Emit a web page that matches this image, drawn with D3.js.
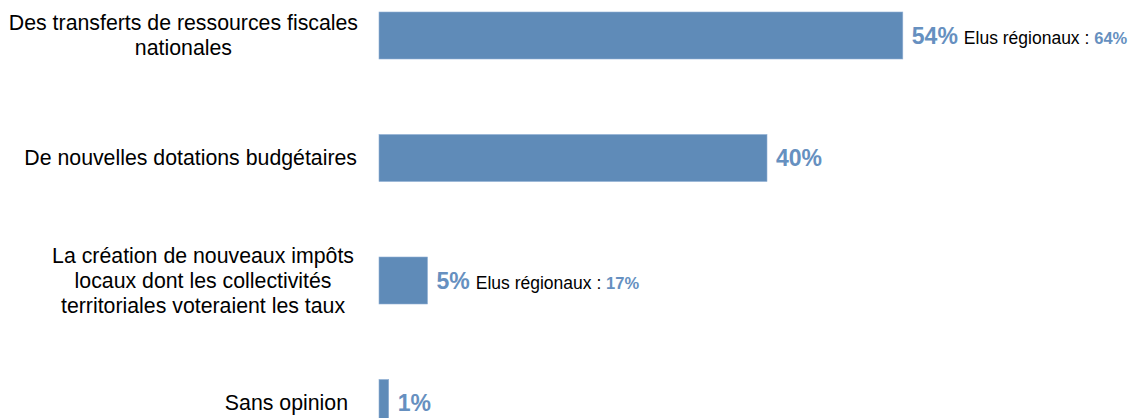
<!DOCTYPE html>
<html>
<head>
<meta charset="utf-8">
<script src="https://cdnjs.cloudflare.com/ajax/libs/d3/7.8.5/d3.min.js"></script>
<style>
  body { margin: 0; background: #fff; }
  text { font-family: "Liberation Sans", Arial, sans-serif; }
</style>
</head>
<body>
<div id="vis"></div>
<script>
// data
const categories = [
  ["Des transferts de ressources fiscales", "nationales"],
  ["De nouvelles dotations budgétaires"],
  ["La création de nouveaux impôts", "locaux dont les collectivités", "territoriales voteraient les taux"],
  ["Sans opinion"]
];
const values = [54, 40, 5, 1];
const elusRegionaux = [64, null, 17, null];

const w = 1133, h = 418;
const barColor = "#5f8bb8";
const labelColor = "#6690c0";

const svg = d3.select("#vis").append("svg")
  .attr("width", w).attr("height", h);

const keys = d3.range(categories.length);
const x = d3.scaleLinear().domain([0, 100]).range([379, 379 + 970]);
const y = d3.scalePoint().domain(keys).range([35.5, 403]);
const barH = 47;
const lineH = 25;
const rightEdge = [358, 357, 354, 348];

const rows = svg.selectAll("g.row")
  .data(keys)
  .join("g")
  .attr("class", "row");

// bars
rows.append("rect")
  .attr("x", x(0))
  .attr("y", i => y(i) - barH / 2)
  .attr("width", i => x(values[i]) - x(0))
  .attr("height", barH)
  .attr("fill", barColor)
  .attr("stroke", "#8fb0d4")
  .attr("stroke-width", 0.6);

// category labels (centered block, right edge near the bars)
rows.each(function(i) {
  const g = d3.select(this);
  const lines = categories[i];
  const t = g.append("text")
    .attr("font-size", 21.3)
    .attr("fill", "#000")
    .attr("text-anchor", "middle");
  const n = lines.length;
  lines.forEach((s, k) => {
    t.append("tspan")
      .attr("x", 0)
      .attr("y", y(i) + 7 + (k - (n - 1) / 2) * lineH)
      .text(s);
  });
  let maxW = 0;
  t.selectAll("tspan").each(function() {
    maxW = Math.max(maxW, this.getComputedTextLength());
  });
  t.selectAll("tspan").attr("x", rightEdge[i] - maxW / 2);
});

// value labels
rows.each(function(i) {
  const g = d3.select(this);
  const vx = x(values[i]) + 9;
  const vt = g.append("text")
    .attr("x", vx)
    .attr("y", y(i) + 8)
    .attr("font-size", 23)
    .attr("font-weight", "bold")
    .attr("fill", labelColor)
    .text(values[i] + "%");
  if (elusRegionaux[i] != null) {
    const ex = vx + vt.node().getComputedTextLength() + 6;
    const et = g.append("text")
      .attr("x", ex)
      .attr("y", y(i) + 8)
      .attr("font-size", 17.5)
      .attr("fill", "#000")
      .text("Elus régionaux : ");
    et.append("tspan")
      .attr("font-size", 16.5)
      .attr("font-weight", "bold")
      .attr("fill", labelColor)
      .text(elusRegionaux[i] + "%");
  }
});
</script>
</body>
</html>
